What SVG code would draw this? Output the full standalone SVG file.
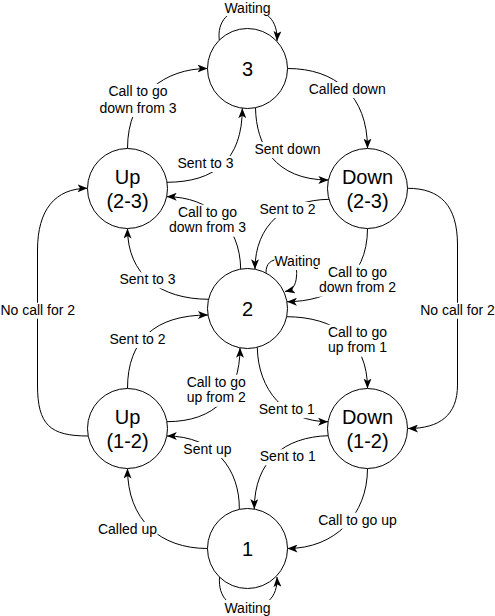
<svg xmlns="http://www.w3.org/2000/svg" width="495" height="616" viewBox="0 0 495 616">
<defs>
<marker id="arr" viewBox="0 0 10 8" refX="10" refY="4" markerWidth="10" markerHeight="8" markerUnits="userSpaceOnUse" orient="auto">
<path d="M0,0 L10,4 L0,8 L2.5,4 Z" fill="#000"/>
</marker>
</defs>
<style>
.e{fill:none;stroke:#000;stroke-width:1;marker-end:url(#arr)}
.bg{fill:#fff}
.lt{font-family:"Liberation Sans",Arial,Helvetica,sans-serif;font-size:14px;fill:#000;text-anchor:middle}
.n{fill:#fff;stroke:#000;stroke-width:1}
.nt{font-family:"Liberation Sans",Arial,Helvetica,sans-serif;font-size:20px;fill:#000;text-anchor:middle}
</style>
<rect width="495" height="616" fill="#fff"/>
<g id="connectors">
<path class="e" d="M219.3,40 C217,22 228,9 247,9 C266,9 278,20 277,41"/>
<path class="e" d="M287.5,68.5 C335,68.5 367.5,95 367.5,148.5"/>
<path class="e" d="M255.5,107.7 C256,145 275,180 328.4,180"/>
<path class="e" d="M127.5,148.5 C127.5,95 165,68.5 207.5,68.5"/>
<path class="e" d="M167,182.3 C215,182 242.3,160 242.3,108.2"/>
<path class="e" d="M240.7,269.1 C240,225 210,196.7 166.7,196.7"/>
<path class="e" d="M329,199.3 C285,200 255,225 255,269.2"/>
<path class="e" d="M266,272.9 C266,264 270,259 282,259 C297,259 297,270 296.5,276 C296,286 292,290 285,291.5"/>
<path class="e" d="M367.5,228.5 C367.5,280 330,301.7 286.9,301.7"/>
<path class="e" d="M208.6,299.3 C160,299 127.5,275 127.5,228.5"/>
<path class="e" d="M127.5,388.5 C127.5,340 155,315 208,315"/>
<path class="e" d="M286.7,316.7 C335,317 367.5,340 367.5,388.5"/>
<path class="e" d="M167,421.7 C215,421.5 240,395 240,347.8"/>
<path class="e" d="M257.3,347.3 C258,390 285,421.7 328.1,421.7"/>
<path class="e" d="M88.2,436 C50,436 37.5,425 37.5,385 L37.5,250 C37.5,210 55,188.3 87.5,188.3"/>
<path class="e" d="M407.5,188.3 C440,188.3 457.5,205 457.5,245 L457.5,385 C457.5,415 440,428.5 408,428.5"/>
<path class="e" d="M239.3,509.3 C240,470 215,436 166.8,436"/>
<path class="e" d="M328.2,435.7 C285,437 254.3,460 254.3,509.1"/>
<path class="e" d="M367.5,468.5 C367.5,515 335,548.5 287.5,548.5"/>
<path class="e" d="M207.5,548.5 C160,548.5 127.5,520 127.5,468.5"/>
<path class="e" d="M219.5,577 C218,598 230,608 247.5,608 C265,608 278,598 277,577"/>
<g id="labels">
<rect class="bg" x="223" y="0" width="49" height="16"/>
<text class="lt" x="247.5" y="12.5">Waiting</text>
<rect class="bg" x="308" y="82" width="79" height="16"/>
<text class="lt" x="347.2" y="94">Called down</text>
<rect class="bg" x="98" y="84" width="80" height="33"/>
<text class="lt" x="138" y="96">Call to go</text>
<text class="lt" x="138" y="112.7">down from 3</text>
<rect class="bg" x="254" y="142" width="67" height="16"/>
<text class="lt" x="287.5" y="154">Sent down</text>
<rect class="bg" x="176.5" y="156" width="58" height="16"/>
<text class="lt" x="205.5" y="168">Sent to 3</text>
<rect class="bg" x="168" y="204.7" width="79" height="32"/>
<text class="lt" x="207.5" y="216.7">Call to go</text>
<text class="lt" x="207.5" y="232.3">down from 3</text>
<rect class="bg" x="259" y="202" width="57" height="16"/>
<text class="lt" x="287.5" y="214">Sent to 2</text>
<rect class="bg" x="274.5" y="254" width="46" height="16"/>
<text class="lt" x="297.5" y="266">Waiting</text>
<rect class="bg" x="318" y="264.7" width="79" height="32"/>
<text class="lt" x="357.5" y="276.7">Call to go</text>
<text class="lt" x="357.5" y="292.3">down from 2</text>
<rect class="bg" x="119" y="272.3" width="57" height="16"/>
<text class="lt" x="147.5" y="284.3">Sent to 3</text>
<rect class="bg" x="109" y="332" width="57" height="16"/>
<text class="lt" x="137.5" y="344">Sent to 2</text>
<rect class="bg" x="327.5" y="324.7" width="60" height="32"/>
<text class="lt" x="357.5" y="336.7">Call to go</text>
<text class="lt" x="357.5" y="352.3">up from 1</text>
<rect class="bg" x="185" y="374.7" width="63" height="32"/>
<text class="lt" x="216.3" y="386.7">Call to go</text>
<text class="lt" x="216.3" y="402.3">up from 2</text>
<rect class="bg" x="258.3" y="402" width="57" height="16"/>
<text class="lt" x="286.8" y="414">Sent to 1</text>
<rect class="bg" x="183" y="442" width="49" height="16"/>
<text class="lt" x="207.5" y="454">Sent up</text>
<rect class="bg" x="259.3" y="449.3" width="57" height="16"/>
<text class="lt" x="287.8" y="461.3">Sent to 1</text>
<rect class="bg" x="317.5" y="512.7" width="80" height="16"/>
<text class="lt" x="357.5" y="524.7">Call to go up</text>
<rect class="bg" x="97.5" y="522" width="60" height="16"/>
<text class="lt" x="127.5" y="534">Called up</text>
<rect class="bg" x="223.5" y="600" width="48" height="16"/>
<text class="lt" x="247.5" y="612.7">Waiting</text>
<rect class="bg" x="0" y="302.7" width="76" height="16"/>
<text class="lt" x="37.8" y="314.7">No call for 2</text>
<rect class="bg" x="419.5" y="302.7" width="76" height="16"/>
<text class="lt" x="457.5" y="314.7">No call for 2</text>
</g>
</g>
<g id="node-3"><circle class="n" cx="247.5" cy="68.5" r="40"/><text class="nt" x="247.5" y="75.5">3</text></g>
<g id="node-up23"><circle class="n" cx="127.5" cy="188.5" r="40"/><text class="nt" x="127.5" y="183.5">Up</text><text class="nt" x="127.5" y="207.5">(2-3)</text></g>
<g id="node-down23"><circle class="n" cx="367.5" cy="188.5" r="40"/><text class="nt" x="367.5" y="183.5">Down</text><text class="nt" x="367.5" y="207.5">(2-3)</text></g>
<g id="node-2"><circle class="n" cx="247.5" cy="308.5" r="40"/><text class="nt" x="247.5" y="315.5">2</text></g>
<g id="node-up12"><circle class="n" cx="127.5" cy="428.5" r="40"/><text class="nt" x="127.5" y="423.5">Up</text><text class="nt" x="127.5" y="447.5">(1-2)</text></g>
<g id="node-down12"><circle class="n" cx="367.5" cy="428.5" r="40"/><text class="nt" x="367.5" y="423.5">Down</text><text class="nt" x="367.5" y="447.5">(1-2)</text></g>
<g id="node-1"><circle class="n" cx="247.5" cy="548.5" r="40"/><text class="nt" x="247.5" y="555.5">1</text></g>
</svg>
